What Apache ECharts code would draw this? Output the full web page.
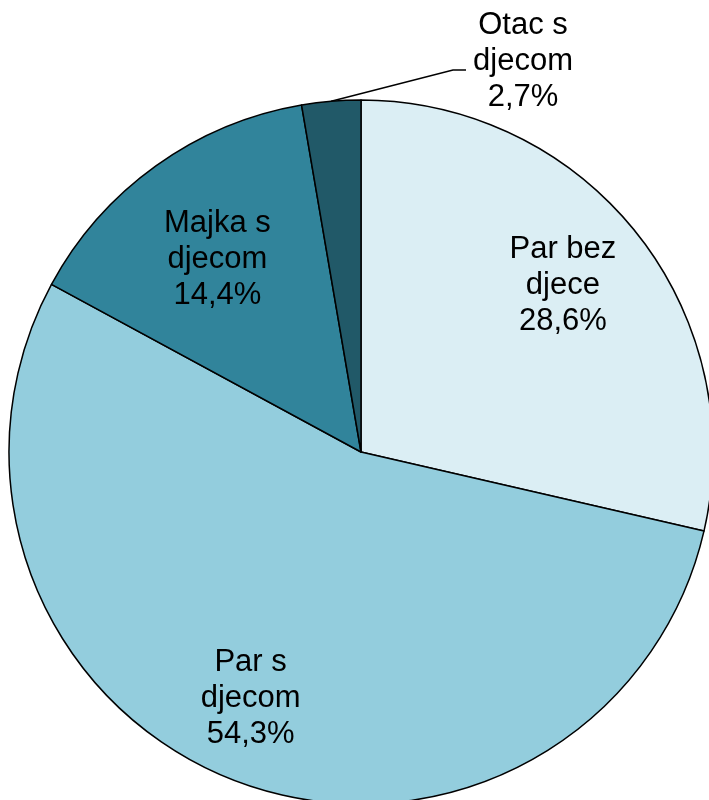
<!DOCTYPE html>
<html>
<head>
<meta charset="utf-8">
<script src="https://cdn.jsdelivr.net/npm/echarts@6/dist/echarts.min.js"></script>
<style>
  html, body { margin: 0; padding: 0; background: #fff; }
  #chart { width: 709px; height: 800px; }
</style>
</head>
<body>
<div id="chart"></div>
<script>
const categories = ["Par bez\ndjece", "Par s\ndjecom", "Majka s\ndjecom", "Otac s\ndjecom"]
const shares = [28.6, 54.3, 14.4, 2.7]
const colors = ["#dbeef4", "#93cddd", "#31849b", "#215968"]

const cx = 361
const cy = 452
const r = 352

// small nudges so the inside labels sit where the original placed them
const labelNudge = [[-7, 0], [-16, -3], [12, 24], [0, 0]]

const chart = echarts.init(document.getElementById("chart"))

const fmt = (p) => `${p.name}\n${String(p.value).replace(".", ",")}%`

const labelStyle = {
    fontFamily: "Liberation Sans, Arial, sans-serif",
    fontSize: 31,
    lineHeight: 36,
    color: "#000",
}

chart.setOption({
    animation: false,
    series: [
        {
            // the visible pie
            type: "pie",
            center: [cx, cy],
            radius: [0, r],
            startAngle: 90,
            clockwise: true,
            silent: true,
            itemStyle: { borderColor: "#000", borderWidth: 1.5 },
            label: { show: false },
            labelLine: { show: false },
            data: shares.map((v, i) => ({
                name: categories[i],
                value: v,
                itemStyle: { color: colors[i] },
                label:
                    i === 3
                        ? {
                              show: true,
                              position: "outside",
                              formatter: fmt,
                              ...labelStyle,
                              align: "center",
                          }
                        : { show: false },
                labelLine:
                    i === 3
                        ? {
                              show: true,
                              length: 10,
                              length2: 10,
                              lineStyle: { color: "#000", width: 1.5 },
                          }
                        : { show: false },
            })),
            labelLayout: (params) => {
                if (params.dataIndex !== 3) return {}
                const p0 = params.labelLinePoints
                    ? params.labelLinePoints[0]
                    : [331, 101]
                return {
                    x: 523,
                    y: 61,
                    align: "center",
                    verticalAlign: "middle",
                    labelLinePoints: [p0, [453, 70], [466, 70]],
                }
            },
        },
        {
            // transparent helper pie so inside labels sit at 3/4 radius
            type: "pie",
            center: [cx, cy],
            radius: [0, r * 1.5],
            startAngle: 90,
            clockwise: true,
            silent: true,
            z: 3,
            itemStyle: { color: "rgba(0,0,0,0)", borderWidth: 0 },
            label: {
                show: true,
                position: "inside",
                formatter: fmt,
                ...labelStyle,
            },
            labelLine: { show: false },
            data: shares.map((v, i) => ({
                name: categories[i],
                value: v,
                label: i === 3 ? { show: false } : { offset: labelNudge[i] },
            })),
        },
    ],
})
</script>
</body>
</html>
